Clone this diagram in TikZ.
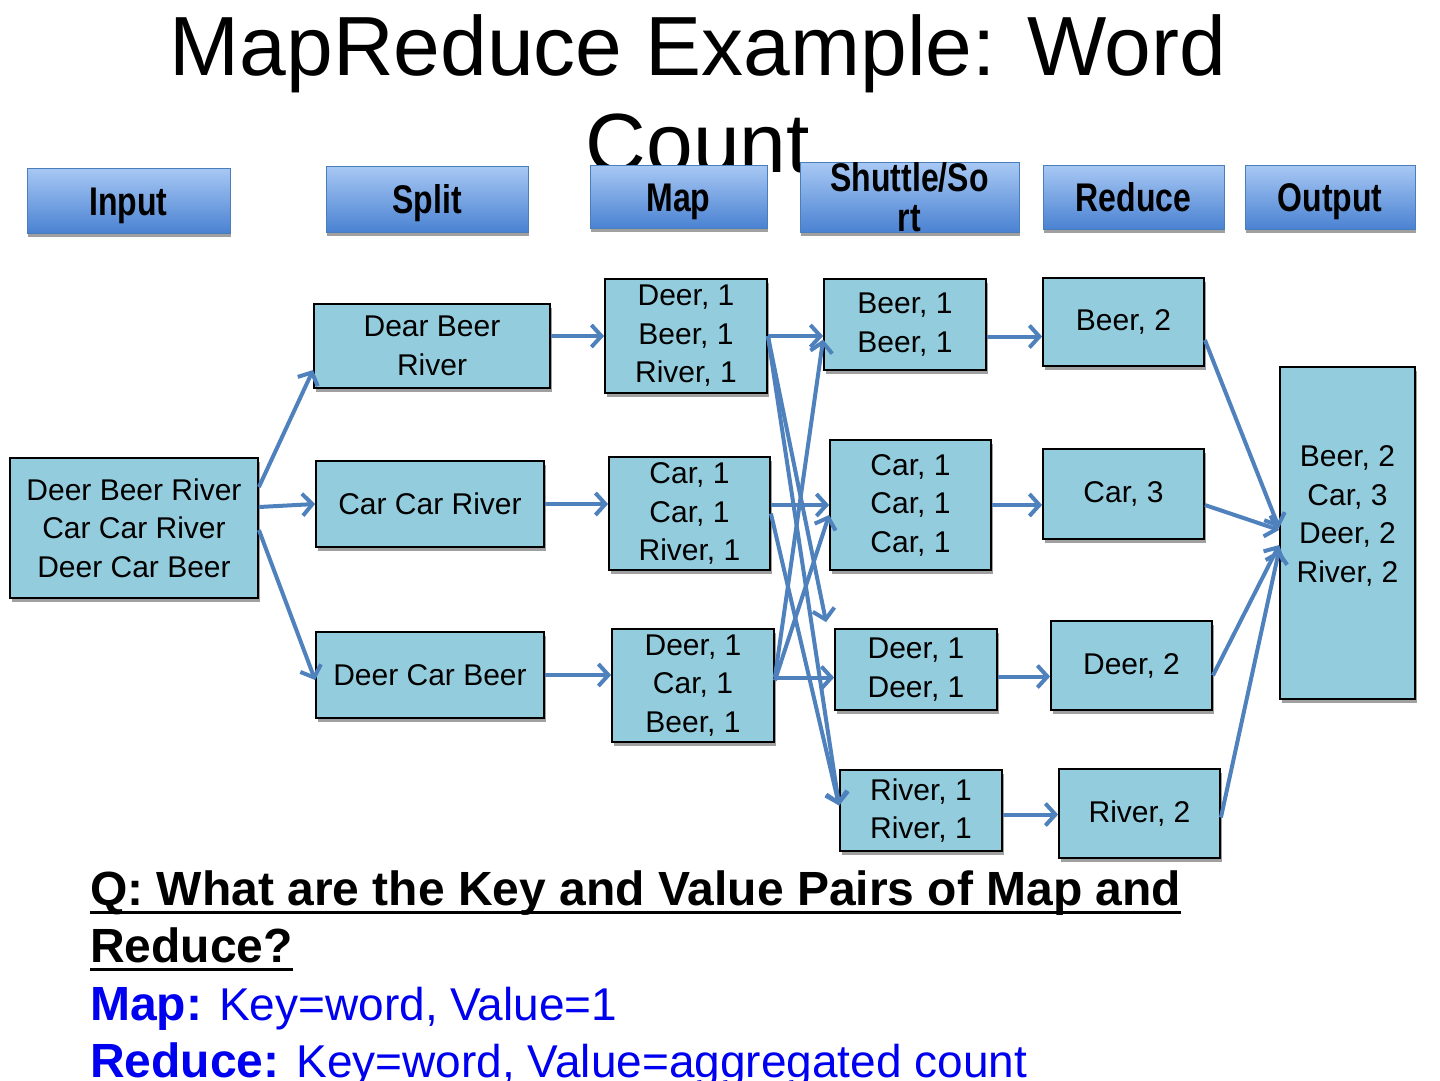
\documentclass[tikz,border=0pt]{standalone}
\usepackage{fontspec}
\setmainfont{Liberation Sans}
\newfontfamily\hdrfont[FakeStretch=0.8]{Liberation Sans}
\usetikzlibrary{arrows.meta,shadows,calc}
\definecolor{boxblue}{HTML}{93CDDD}
\definecolor{arrblue}{HTML}{4F81BD}
\definecolor{hdrtop}{HTML}{A8C8F4}
\definecolor{hdrbot}{HTML}{4A82D2}
\definecolor{hdrline}{HTML}{4A7EBB}
\definecolor{shadowgray}{HTML}{A0A0A0}
\definecolor{qblue}{HTML}{0000F0}
\tikzset{
  box/.style={draw=black, line width=1.8pt, fill=boxblue, inner sep=0pt, align=center,
    font=\fontsize{30}{38.5}\selectfont,
    drop shadow={shadow xshift=2pt, shadow yshift=-4pt, fill=shadowgray, opacity=1}},
  hdr/.style={draw=hdrline, line width=0.8pt, top color=hdrtop, bottom color=hdrbot,
    inner sep=0pt, align=center, font=\hdrfont\bfseries\fontsize{40}{40}\selectfont,
    drop shadow={shadow xshift=1pt, shadow yshift=-4pt, fill=shadowgray, opacity=1}},
  hdrone/.style={hdr, text height=29pt, text depth=0pt},
  arr/.style={draw=arrblue, line width=4pt, -{Straight Barb[length=10pt,width=22pt]}},
  qtext/.style={anchor=base west, inner sep=0pt, font=\fontsize{46}{46}\selectfont},
}
\begin{document}
\begin{tikzpicture}[x=1pt,y=-1pt]
\useasboundingbox (0,0) rectangle (1440,1080);
% title
\node[anchor=base, inner sep=0pt, font=\fontsize{84}{84}\selectfont] (t1) at (698,75) {MapReduce Example: Word};
\node[anchor=base, inner sep=0pt, font=\fontsize{84}{84}\selectfont] (t2) at (698,172) {Count};
% headers
\node[hdrone, minimum width=203pt, minimum height=65pt] (hin) at (128.5,200.5) {Input};
\node[hdrone, minimum width=202pt, minimum height=66pt] (hsp) at (427,199) {Split};
\node[hdrone, minimum width=177pt, minimum height=63pt] (hmap) at (678.5,196.5) {Map};
\node[hdr, minimum width=219pt, minimum height=65pt] (hsh) at (909.5,197.5) {Shuttle/So\\rt};
\node[hdrone, minimum width=181pt, minimum height=64pt] (hred) at (1133.5,197) {Reduce};
\node[hdrone, minimum width=170pt, minimum height=64pt] (hout) at (1330,197) {Output};
% input
\node[box, minimum width=248pt, minimum height=140pt] (in) at (134,528) {Deer Beer River\\Car Car River\\Deer Car Beer};
% split
\node[box, minimum width=236pt, minimum height=84pt] (sp1) at (432,346) {Dear Beer\\River};
\node[box, minimum width=228pt, minimum height=86pt] (sp2) at (430,504) {Car Car River};
\node[box, minimum width=228pt, minimum height=86pt] (sp3) at (430,675) {Deer Car Beer};
% map
\node[box, minimum width=162pt, minimum height=114pt] (m1) at (686,336) {Deer, 1\\Beer, 1\\River, 1};
\node[box, minimum width=161pt, minimum height=113pt] (m2) at (689.5,513.5) {Car, 1\\Car, 1\\River, 1};
\node[box, minimum width=162pt, minimum height=113pt] (m3) at (693,685.5) {Deer, 1\\Car, 1\\Beer, 1};
% shuffle
\node[box, minimum width=162pt, minimum height=91pt] (s1) at (905,324.5) {Beer, 1\\Beer, 1};
\node[box, minimum width=161pt, minimum height=130pt] (s2) at (910.5,505) {Car, 1\\Car, 1\\Car, 1};
\node[box, minimum width=162pt, minimum height=81pt] (s3) at (916,669.5) {Deer, 1\\Deer, 1};
\node[box, minimum width=162pt, minimum height=81pt] (s4) at (921,810.5) {River, 1\\River, 1};
% reduce
\node[box, minimum width=161pt, minimum height=88pt] (r1) at (1123.5,322) {Beer, 2};
\node[box, minimum width=161pt, minimum height=90pt] (r2) at (1123.5,494) {Car, 3};
\node[box, minimum width=161pt, minimum height=89pt] (r3) at (1131.5,665.5) {Deer, 2};
\node[box, minimum width=161pt, minimum height=89pt] (r4) at (1139.5,813.5) {River, 2};
% output
\node[box, minimum width=135pt, minimum height=332pt] (out) at (1347.5,533) {};
\node[inner sep=0pt, align=center, font=\fontsize{30}{38.5}\selectfont] (outtxt) at ([yshift=17pt]out.center) {Beer, 2\\Car, 3\\Deer, 2\\River, 2};
% input -> split
\draw[arr] ([yshift=41pt]in.east) -- ([yshift=-24pt]sp1.west);
\draw[arr] ([yshift=21pt]in.east) -- (sp2.west);
\draw[arr] ([yshift=-2pt]in.east) -- ([yshift=-5pt]sp3.west);
% split -> map
\draw[arr] (sp1.east |- m1.west) -- (m1.west);
\draw[arr] (sp2.east) -- (sp2.east -| m2.west);
\draw[arr] (sp3.east) -- (sp3.east -| m3.west);
% map -> shuffle
\draw[arr] (m1.east) -- (m1.east -| s1.west);
\draw[arr] (m1.east) -- ([shift={(-8pt,6pt)}]s3.north west);
\draw[arr] (m1.east) -- ([yshift=5pt]s4.west);
\draw[arr] (m2.east |- s2.west) -- (s2.west);
\draw[arr] (m2.east) -- ([yshift=5pt]s4.west);
\draw[arr] ([yshift=8pt]m3.east) -- ([yshift=8pt]m3.east -| s3.west);
\draw[arr] ([yshift=8pt]m3.east) -- ([yshift=-15pt]s1.west);
\draw[arr] ([yshift=5pt]m3.east) -- ([yshift=-10pt]s2.west);
% shuffle -> reduce
\draw[arr] ([yshift=-12pt]s1.east) -- ([yshift=-12pt]s1.east -| r1.west);
\draw[arr] (s2.east) -- (s2.east -| r2.west);
\draw[arr] ([yshift=-7pt]s3.east) -- ([yshift=-7pt]s3.east -| r3.west);
\draw[arr] ([yshift=-4pt]s4.east) -- ([yshift=-4pt]s4.east -| r4.west);
% reduce -> output
\draw[arr] ([yshift=-18pt]r1.east) -- ([yshift=5pt]out.west);
\draw[arr] ([yshift=-11pt]r2.east) -- ([yshift=3pt]out.west);
\draw[arr] ([yshift=-10pt]r3.east) -- ([yshift=-12pt]out.west);
\draw[arr] ([yshift=-4pt]r4.east) -- ([yshift=-17pt]out.west);
% question text
\node[qtext, font=\bfseries\fontsize{48}{48}\selectfont] (q1) at (90,905) {Q: What are the Key and Value Pairs of Map and};
\draw[line width=3pt] ([yshift=-7pt]q1.base west) -- ([yshift=-7pt]q1.base east);
\node[qtext, font=\bfseries\fontsize{48}{48}\selectfont] (q2) at (90,962) {Reduce?};
\draw[line width=3pt] ([yshift=-7pt]q2.base west) -- ([yshift=-7pt]q2.base east);
\node[qtext, text=qblue] (q3) at (90,1020) {\textbf{\fontsize{48}{48}\selectfont Map:} Key=word, Value=1};
\node[qtext, text=qblue] (q4) at (90,1077) {\textbf{\fontsize{48}{48}\selectfont Reduce:} Key=word, Value=aggregated count};
\end{tikzpicture}
\end{document}
